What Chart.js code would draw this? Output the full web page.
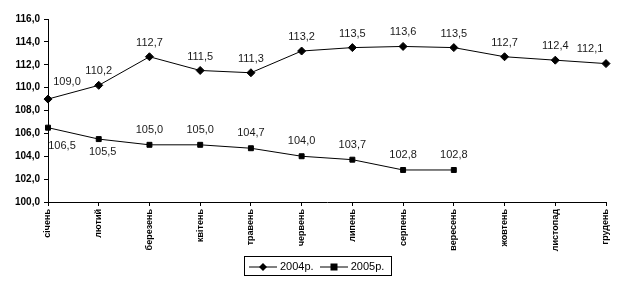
<!DOCTYPE html>
<html>
<head>
<meta charset="utf-8">
<script src="https://cdn.jsdelivr.net/npm/chart.js@4"></script>
<style>
  body { margin: 0; background: #fff; }
  #wrap { position: relative; width: 623px; height: 282px; }
  #legend {
    position: absolute; left: 244px; top: 256px; width: 142px; height: 18px;
    border: 1px solid #000; font: 11px "Liberation Sans", Arial, sans-serif;
    display: flex; align-items: center; padding-left: 4px;
  }
  #legend span { margin-right: 6px; }
  #legend svg { vertical-align: middle; margin-right: 3px; }
</style>
</head>
<body>
<div id="wrap">
  <canvas id="chart" width="623" height="282"></canvas>
  <div id="legend"></div>
</div>
<script>
var months = ["січень", "лютий", "березень", "квітень", "травень", "червень",
  "липень", "серпень", "вересень", "жовтень", "листопад", "грудень"];
var series2004 = [109.0, 110.2, 112.7, 111.5, 111.3, 113.2, 113.5, 113.6, 113.5, 112.7, 112.4, 112.1];
var series2005 = [106.5, 105.5, 105.0, 105.0, 104.7, 104.0, 103.7, 102.8, 102.8, null, null, null];
var seriesNames = ["2004р.", "2005р."];

function fmt(v) {
  return v.toFixed(1).replace(".", ",");
}

// label offsets per series (style only)
function labelOffset(ds, i) {
  if (ds === 0) {
    if (i === 0) return [19, -17];
    if (i === 11) return [-16, -15];
    return [0, -14];
  }
  if (i === 0) return [14, 18];
  if (i === 1) return [4, 13];
  return [0, -15];
}

var valueLabels = {
  id: "valueLabels",
  afterDatasetsDraw: function (chart) {
    var c = chart.ctx;
    c.save();
    c.font = '11px "Liberation Sans", Arial, sans-serif';
    c.fillStyle = "#1a1a1a";
    c.textAlign = "center";
    c.textBaseline = "middle";
    chart.data.datasets.forEach(function (ds, d) {
      var meta = chart.getDatasetMeta(d);
      meta.data.forEach(function (pt, i) {
        var v = ds.data[i];
        if (v === null) return;
        var off = labelOffset(d, i);
        c.fillText(fmt(v), pt.x + off[0], pt.y + off[1]);
      });
    });
    c.restore();
  }
};

new Chart(document.getElementById("chart"), {
  type: "line",
  data: {
    labels: months,
    datasets: [
      {
        label: seriesNames[0],
        data: series2004,
        borderColor: "#000",
        backgroundColor: "#000",
        borderWidth: 1,
        pointStyle: "rectRot",
        pointRadius: 4,
        pointHoverRadius: 4,
        tension: 0
      },
      {
        label: seriesNames[1],
        data: series2005,
        borderColor: "#000",
        backgroundColor: "#000",
        borderWidth: 1,
        pointStyle: "rect",
        pointRadius: 3.5,
        pointHoverRadius: 3.5,
        tension: 0,
        spanGaps: false
      }
    ]
  },
  options: {
    responsive: false,
    animation: false,
    layout: { padding: { top: 19, right: 17, left: 0, bottom: 0 } },
    plugins: { legend: { display: false }, tooltip: { enabled: false } },
    scales: {
      x: {
        offset: false,
        border: { color: "#000", width: 1 },
        grid: { drawOnChartArea: false, color: "#000", tickLength: 4 },
        ticks: {
          color: "#000",
          minRotation: 90,
          maxRotation: 90,
          autoSkip: false,
          padding: 3,
          font: { family: '"Liberation Sans", Arial, sans-serif', size: 9, weight: "bold" }
        },
        afterFit: function (scale) { scale.height = 80; }
      },
      y: {
        min: 100,
        max: 116,
        border: { color: "#000", width: 1 },
        grid: { drawOnChartArea: false, color: "#000", tickLength: 4 },
        ticks: {
          stepSize: 2,
          color: "#000",
          padding: 4,
          font: { family: '"Liberation Sans", Arial, sans-serif', size: 10, weight: "bold" },
          callback: function (v) { return fmt(v); }
        },
        afterFit: function (scale) { scale.width = 48; }
      }
    }
  },
  plugins: [valueLabels]
});

var markers = [
  '<polygon points="14,1 18,5 14,9 10,5" fill="#000"/>',
  '<rect x="10.5" y="1.5" width="7" height="7" fill="#000"/>'
];
var legendHtml = "";
seriesNames.forEach(function (name, i) {
  legendHtml += '<span><svg width="28" height="10"><line x1="0" y1="5" x2="28" y2="5" stroke="#000" stroke-width="1"/>' +
    markers[i] + "</svg>" + name + "</span>";
});
document.getElementById("legend").innerHTML = legendHtml;
</script>
</body>
</html>
